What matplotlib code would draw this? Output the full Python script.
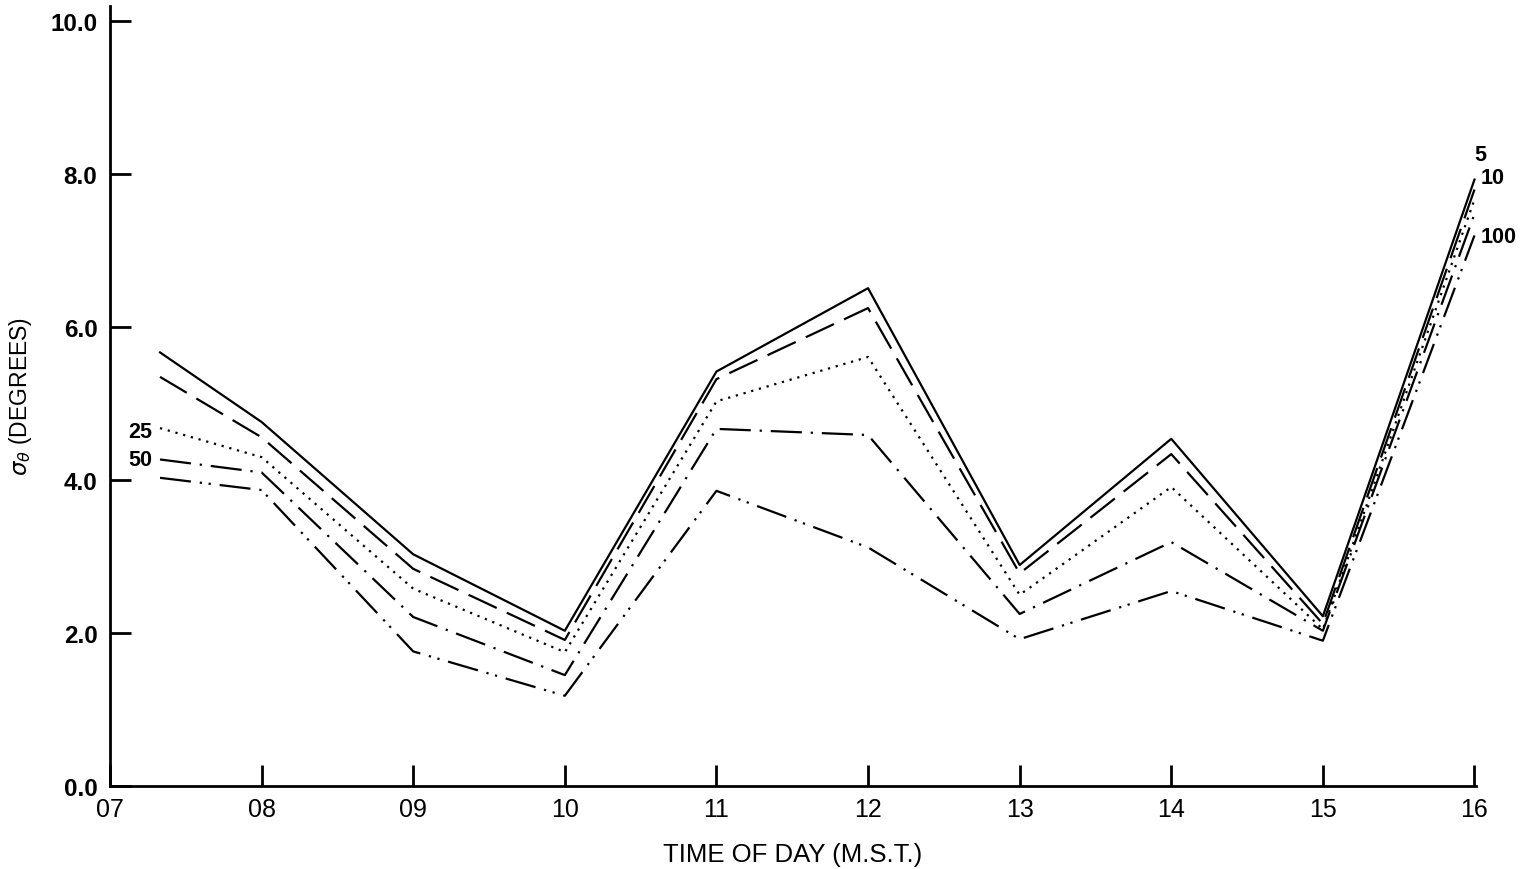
import matplotlib
matplotlib.use('Agg')
import matplotlib.pyplot as plt

# hours (M.S.T.), first point is a little after 07
hours = [7.33, 8, 9, 10, 11, 12, 13, 14, 15, 16]
# sigma theta (degrees) for each height label
s5 = [5.67, 4.76, 3.03, 2.03, 5.42, 6.51, 2.89, 4.54, 2.22, 7.93]
s10 = [5.35, 4.56, 2.84, 1.91, 5.32, 6.25, 2.78, 4.34, 2.12, 7.80]
s25 = [4.68, 4.30, 2.58, 1.75, 5.03, 5.61, 2.50, 3.91, 2.05, 7.67]
s50 = [4.27, 4.10, 2.21, 1.45, 4.67, 4.59, 2.25, 3.19, 2.03, 7.48]
s100 = [4.03, 3.87, 1.76, 1.18, 3.86, 3.12, 1.92, 2.55, 1.90, 7.20]
xticks = [7, 8, 9, 10, 11, 12, 13, 14, 15, 16]
xticklabels = ['07', '08', '09', '10', '11', '12', '13', '14', '15', '16']
yticks = [0, 2, 4, 6, 8, 10]

fam = ['Liberation Sans Narrow', 'Liberation Sans', 'DejaVu Sans']
plt.rcParams['font.family'] = fam
bfam = ['Liberation Sans', 'DejaVu Sans']

fig = plt.figure(figsize=(15.22, 8.70), dpi=100)
ax = fig.add_axes([110/1522, 1-787/870, (1476-110)/1522, (787-7)/870])

lw = 1.6
ax.plot(hours, s5, color='black', lw=lw, linestyle='-')
ax.plot(hours, s10, color='black', lw=lw, linestyle=(0, (14, 5)))
ax.plot(hours, s25, color='black', lw=lw, linestyle=(0, (1, 2.6)))
ax.plot(hours, s50, color='black', lw=lw, linestyle=(0, (14, 4, 1, 4)))
ax.plot(hours, s100, color='black', lw=lw, linestyle=(0, (14, 4, 1, 3, 1, 4)))

ax.set_xlim(7, 16.01)
ax.set_ylim(0, 10.2)
ax.spines['top'].set_visible(False)
ax.spines['right'].set_visible(False)
ax.spines['left'].set_linewidth(2)
ax.spines['bottom'].set_linewidth(2)

ax.set_xticks(xticks)
ax.set_xticklabels(xticklabels, fontsize=18)
ax.set_yticks(yticks)
ax.set_yticklabels(['%.1f' % v for v in yticks], fontsize=17.5, fontweight='bold',
                   family=bfam)
ax.tick_params(axis='x', direction='in', length=15, width=2, pad=8)
ax.tick_params(axis='y', direction='in', length=15, width=2, pad=9)

ax.set_xlabel('TIME OF DAY (M.S.T.)', fontsize=18.5, labelpad=15, family=bfam)
ax.set_ylabel(r'$\sigma_\theta$ (DEGREES)', fontsize=16.5, labelpad=12, family=bfam)

# curve labels
lab = dict(fontsize=15.5, fontweight='bold', family=bfam)
ax.text(7.28, 4.64, '25', ha='right', va='center', **lab)
ax.text(7.28, 4.27, '50', ha='right', va='center', **lab)
ax.text(16.0, 8.26, '5', ha='left', va='center', clip_on=False, **lab)
ax.text(16.04, 7.96, '10', ha='left', va='center', clip_on=False, **lab)
ax.text(16.04, 7.18, '100', ha='left', va='center', clip_on=False, **lab)

plt.savefig('out.png', dpi=100)
